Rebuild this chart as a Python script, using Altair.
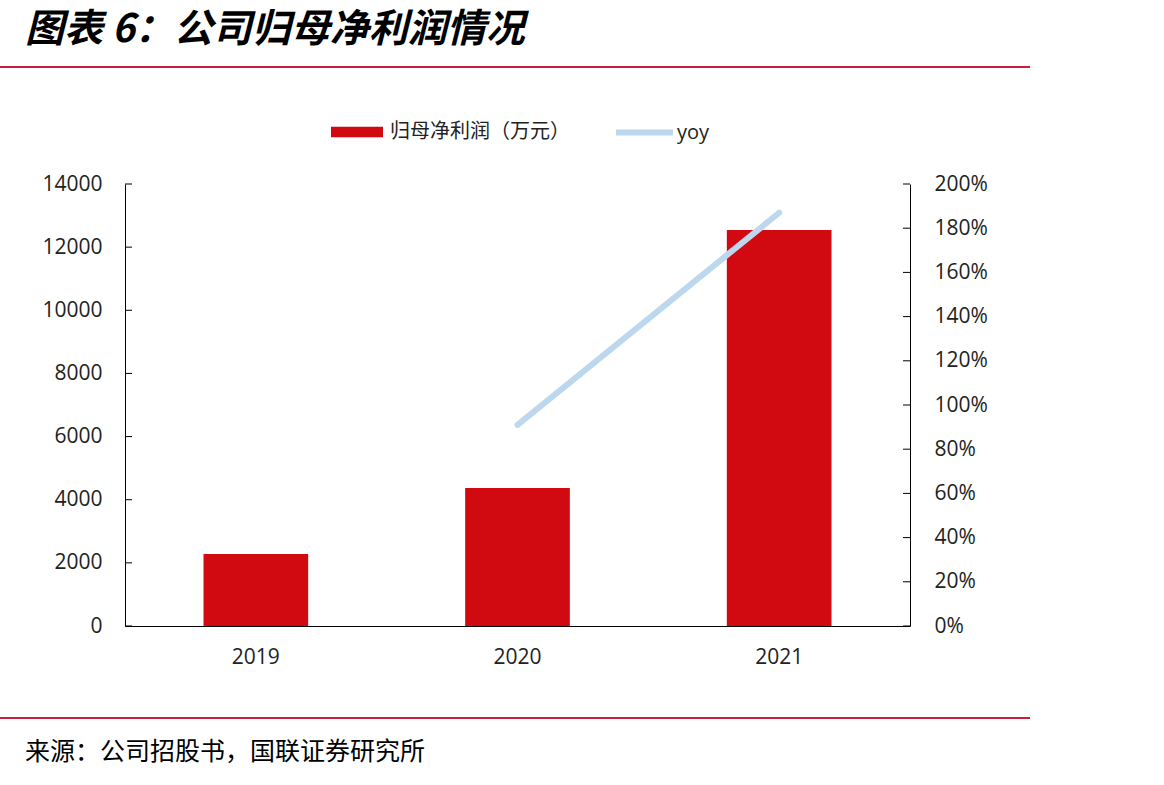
import altair as alt
import pandas as pd

# Values
years = ["2019", "2020", "2021"]
profit = [2280, 4370, 12540]          # 归母净利润（万元）
yoy = [None, 0.91, 1.87]              # 同比增速

left_ticks = [0, 2000, 4000, 6000, 8000, 10000, 12000, 14000]
right_ticks = [0, 0.2, 0.4, 0.6, 0.8, 1.0, 1.2, 1.4, 1.6, 1.8, 2.0]

title_text = "图表 6：公司归母净利润情况"
source_text = "来源：公司招股书，国联证券研究所"
bar_name = "归母净利润（万元）"
line_name = "yoy"

BAR_RED = "#D10A11"
LINE_BLUE = "#BDD7EE"
RULE_RED = "#C81E3C"
TEXT = "#222222"
NUM_FONT = "Open Sans"
CJK_FONT = "Noto Sans CJK SC"
AX_FS = 21

df = pd.DataFrame({
    "year": years,
    "profit": profit,
    "yoy": yoy,
    "s_bar": bar_name,
    "s_line": line_name,
})

x_enc = alt.X(
    "year:N", sort=years, title=None,
    scale=alt.Scale(paddingInner=0.6, paddingOuter=0.3),
    axis=alt.Axis(labelAngle=0, ticks=False, labelPadding=20, domainColor="#000000",
                  labelFontSize=AX_FS, labelFont=NUM_FONT, labelColor=TEXT),
)

left_scale = alt.Scale(domain=[0, 14000], nice=False)
right_scale = alt.Scale(domain=[0, 2.0], nice=False)

left_axis = alt.Axis(values=left_ticks, format="d", tickSize=0, labelPadding=23,
                     grid=False, domainColor="#000000", labelFontSize=AX_FS,
                     labelFont=NUM_FONT, labelColor=TEXT)
right_axis = alt.Axis(orient="right", values=right_ticks, format=".0%", tickSize=0,
                      labelPadding=24, grid=False, domainColor="#000000",
                      labelFontSize=AX_FS, labelFont=NUM_FONT, labelColor=TEXT)

bars = alt.Chart(df).mark_bar().encode(
    x=x_enc,
    y=alt.Y("profit:Q", scale=left_scale, title=None, axis=left_axis),
    color=alt.Color("s_bar:N", scale=alt.Scale(domain=[bar_name], range=[BAR_RED]),
                    legend=alt.Legend(title=None, orient="none", legendX=206, legendY=-78,
                                      symbolType="M-1,-0.2H1V0.2H-1Z", symbolSize=2704,
                                      symbolStrokeWidth=0, labelOffset=7, labelFontSize=20,
                                      labelFont=CJK_FONT, labelColor=TEXT, padding=0,
                                      labelLimit=400)),
)

# inward tick marks on the left axis
left_tick_marks = alt.Chart(pd.DataFrame({"v": left_ticks})).mark_rule(
    color="#000000", strokeWidth=1
).encode(
    y=alt.Y("v:Q", scale=left_scale, title=None, axis=left_axis),
    x=alt.value(0), x2=alt.value(7),
)

line = alt.Chart(df).mark_line(strokeWidth=6, strokeCap="round").encode(
    x=x_enc,
    y=alt.Y("yoy:Q", scale=right_scale, title=None, axis=right_axis),
    stroke=alt.Stroke("s_line:N", scale=alt.Scale(domain=[line_name], range=[LINE_BLUE]),
                      legend=alt.Legend(title=None, orient="none", legendX=488, legendY=-83,
                                        symbolType="stroke", symbolSize=3249,
                                        symbolStrokeWidth=6, labelOffset=1, labelFontSize=20,
                                        labelFont=NUM_FONT, labelColor=TEXT, padding=0)),
)

# inward tick marks on the right axis
right_tick_marks = alt.Chart(pd.DataFrame({"v": right_ticks})).mark_rule(
    color="#000000", strokeWidth=1
).encode(
    y=alt.Y("v:Q", scale=right_scale, title=None, axis=right_axis),
    x=alt.value(778), x2=alt.value(785),
)

left_group = alt.layer(bars, left_tick_marks)
right_group = alt.layer(line, right_tick_marks)

one = pd.DataFrame({"a": [0]})

title_mark = alt.Chart(pd.DataFrame({"t": [title_text]})).mark_text(
    align="left", baseline="middle", fontSize=39, fontWeight="bold", fontStyle="italic",
    font=CJK_FONT, color="#000000"
).encode(text="t:N", x=alt.value(-100), y=alt.value(-154))

top_rule = alt.Chart(one).mark_rule(color=RULE_RED, strokeWidth=2).encode(
    x=alt.value(-125), x2=alt.value(905), y=alt.value(-117))

bottom_rule = alt.Chart(one).mark_rule(color=RULE_RED, strokeWidth=2).encode(
    x=alt.value(-125), x2=alt.value(905), y=alt.value(534))

source_mark = alt.Chart(pd.DataFrame({"t": [source_text]})).mark_text(
    align="left", baseline="middle", fontSize=25, font=CJK_FONT, color="#000000"
).encode(text="t:N", x=alt.value(-100), y=alt.value(568))

chart = alt.layer(
    left_group, right_group, title_mark, top_rule, bottom_rule, source_mark
).resolve_scale(
    y="independent"
).properties(
    width=785, height=442,
    autosize="none",
    padding={"left": 125, "top": 184, "right": 254, "bottom": 159},
    background="white",
).configure_view(stroke=None)

chart.save("out.html", embed_options={"renderer": "svg", "actions": False})
